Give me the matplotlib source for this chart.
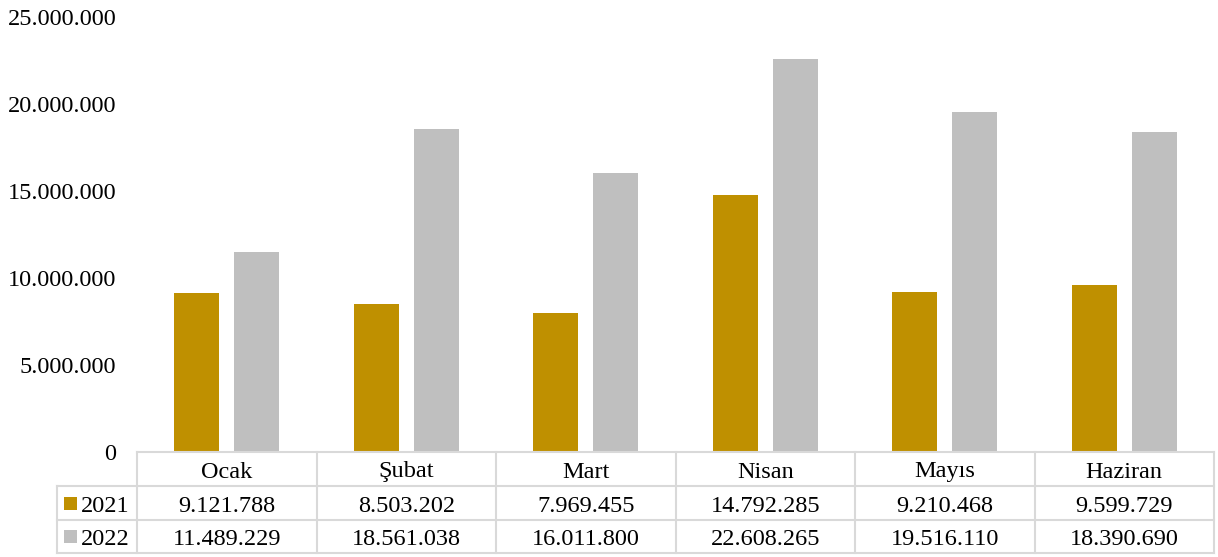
import matplotlib
matplotlib.use("Agg")
import matplotlib.pyplot as plt
import matplotlib.transforms as mtransforms
from matplotlib.patches import Rectangle
from matplotlib.lines import Line2D
from matplotlib.ticker import FuncFormatter
import numpy as np

months = ["Ocak", "Şubat", "Mart", "Nisan", "Mayıs", "Haziran"]
series_names = ["2021", "2022"]
values_2021 = [9121788, 8503202, 7969455, 14792285, 9210468, 9599729]
values_2022 = [11489229, 18561038, 16011800, 22608265, 19516110, 18390690]
colors = ["#BF9000", "#BFBFBF"]

plt.rcParams['font.family'] = ['Liberation Serif', 'DejaVu Serif']
FS = 17.5

def fmt(v):
    return f"{int(v):,}".replace(",", ".")

fig = plt.figure(figsize=(12.18, 5.57), dpi=100)
W, H = 1218, 557
ax_l, ax_r, ax_t, ax_b = 137, 1214, 17, 452
ax = fig.add_axes([ax_l / W, 1 - ax_b / H, (ax_r - ax_l) / W, (ax_b - ax_t) / H])

x = np.arange(len(months))
bw = 0.25
off = 0.167
ax.bar(x - off, values_2021, width=bw, color=colors[0])
ax.bar(x + off, values_2022, width=bw, color=colors[1])

ax.set_xlim(-0.5, len(months) - 0.5)
ax.set_ylim(0, 25000000)
ax.set_yticks(np.arange(0, 25000001, 5000000))
ax.yaxis.set_major_formatter(FuncFormatter(lambda v, p: fmt(v)))
ax.tick_params(axis='y', length=0, pad=15, labelsize=FS)
ax.set_xticks([])
for s in ax.spines.values():
    s.set_visible(False)

# data table below the plot
trans = mtransforms.blended_transform_factory(ax.transData, ax.transAxes)
ah = ax_b - ax_t
rows_px = [452, 486, 520, 553]
ry = [-(r - ax_b) / ah for r in rows_px]
unit = (ax_r - ax_l) / len(months)
left_x = -0.5 - (ax_l - 57) / unit
lc = "#D9D9D9"
lw = 1.5
xr = len(months) - 0.5

def hline(x0, x1, y):
    ax.add_line(Line2D([x0, x1], [y, y], transform=trans, color=lc, lw=lw, clip_on=False))

def vline(xv, y0, y1):
    ax.add_line(Line2D([xv, xv], [y0, y1], transform=trans, color=lc, lw=lw, clip_on=False))

hline(-0.5, xr, ry[0])
for yv in ry[1:]:
    hline(left_x, xr, yv)
for i in range(len(months) + 1):
    vline(i - 0.5, ry[0], ry[3])
vline(left_x, ry[1], ry[3])

base_off = 8.5 / ah  # baseline below row centre

def row_base(k):
    return (ry[k] + ry[k + 1]) / 2 - base_off

for i, m in enumerate(months):
    ax.text(i, row_base(0), m, transform=trans, ha='center', va='baseline', fontsize=FS)
    ax.text(i, row_base(1), fmt(values_2021[i]), transform=trans, ha='center', va='baseline', fontsize=FS)
    ax.text(i, row_base(2), fmt(values_2022[i]), transform=trans, ha='center', va='baseline', fontsize=FS)

sq_w = 13 / unit
sq_h = 13 / ah
sq_x = -0.5 - (ax_l - 64) / unit
txt_x = -0.5 - (ax_l - 81) / unit
for k, name in enumerate(series_names):
    yc = (ry[k + 1] + ry[k + 2]) / 2
    ax.add_patch(Rectangle((sq_x, yc - sq_h / 2), sq_w, sq_h, transform=trans,
                           facecolor=colors[k], edgecolor='none', clip_on=False))
    ax.text(txt_x, row_base(k + 1), name, transform=trans, ha='left', va='baseline', fontsize=FS)

fig.savefig("out.png", dpi=100)
